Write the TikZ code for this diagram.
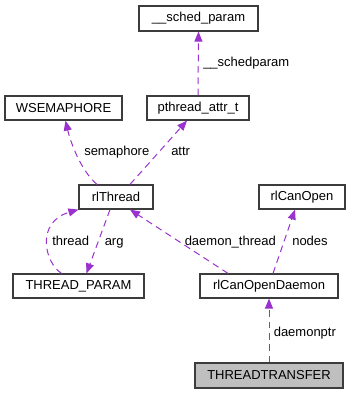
\documentclass[tikz,border=0pt]{standalone}
\usepackage{fontspec}
\setmainfont{Liberation Sans}
\usetikzlibrary{arrows.meta}

\definecolor{edgepurple}{RGB}{154,50,205}
\definecolor{boxline}{RGB}{60,60,60}

\tikzset{
  cls/.style={draw=boxline, line width=0.9pt, fill=white, inner sep=0pt,
    font=\fontsize{9.75}{11}\selectfont},
  focus/.style={cls, fill=black!25},
  uses/.style={edgepurple, line width=0.75pt, dash pattern=on 5pt off 3.5pt,
    -{Triangle[length=7.5pt,width=6pt]}},
  lbl/.style={anchor=base west, inner sep=0pt, font=\fontsize{9.75}{11}\selectfont},
}

\begin{document}
\begin{tikzpicture}[x=0.75pt,y=0.75pt,yscale=-1,xscale=1]
\useasboundingbox (0,0) rectangle (351,395);

% classes
\node[cls, minimum width=119*0.75pt, minimum height=25*0.75pt] (sched) at (198.5,18.5) {\_\_sched\_param};
\node[cls, minimum width=102*0.75pt, minimum height=24*0.75pt] (attr) at (198,108) {pthread\_attr\_t};
\node[cls, minimum width=117*0.75pt, minimum height=24*0.75pt] (wsem) at (63.5,108) {WSEMAPHORE};
\node[cls, minimum width=74*0.75pt, minimum height=24*0.75pt] (thr) at (116,197) {rlThread};
\node[cls, minimum width=86*0.75pt, minimum height=24*0.75pt] (cop) at (302,197) {rlCanOpen};
\node[cls, minimum width=131*0.75pt, minimum height=24*0.75pt] (tpar) at (78.5,286) {THREAD\_PARAM};
\node[cls, minimum width=138*0.75pt, minimum height=24*0.75pt] (dmn) at (269,286) {rlCanOpenDaemon};
\node[focus, minimum width=148*0.75pt, minimum height=25*0.75pt] (ttr) at (269,375.5) {THREADTRANSFER};

% member links
\draw[uses] (attr.north) -- (sched.south);
\draw[uses] ([xshift=-19*0.75pt]thr.north) .. controls (80,170) and (70,140) .. ([xshift=2*0.75pt]wsem.south);
\draw[uses] ([xshift=14*0.75pt]thr.north) -- ([xshift=-11*0.75pt]attr.south);
\draw[uses] ([xshift=-17*0.75pt]tpar.north) .. controls (44,262) and (36,222) .. (thr.south west);
\draw[uses] ([xshift=-6*0.75pt]thr.south) -- ([xshift=8*0.75pt]tpar.north);
\draw[uses] ([xshift=-41*0.75pt]dmn.north) -- ([xshift=14*0.75pt]thr.south);
\draw[uses] ([xshift=4*0.75pt]dmn.north) -- ([xshift=-7*0.75pt]cop.south);
\draw[uses] (ttr.north) -- (dmn.south);

% link labels
\node[lbl] (lsched) at (203,67) {\_\_schedparam};
\node[lbl] (lsem) at (84,156) {semaphore};
\node[lbl] (lattr) at (171,156) {attr};
\node[lbl] (lthr) at (52,245.5) {thread};
\node[lbl] (larg) at (104.5,245.5) {arg};
\node[lbl] (ldt) at (184.5,245.5) {daemon\_thread};
\node[lbl] (lnod) at (292,245.5) {nodes};
\node[lbl] (ldp) at (273.5,336) {daemonptr};

\end{tikzpicture}
\end{document}
